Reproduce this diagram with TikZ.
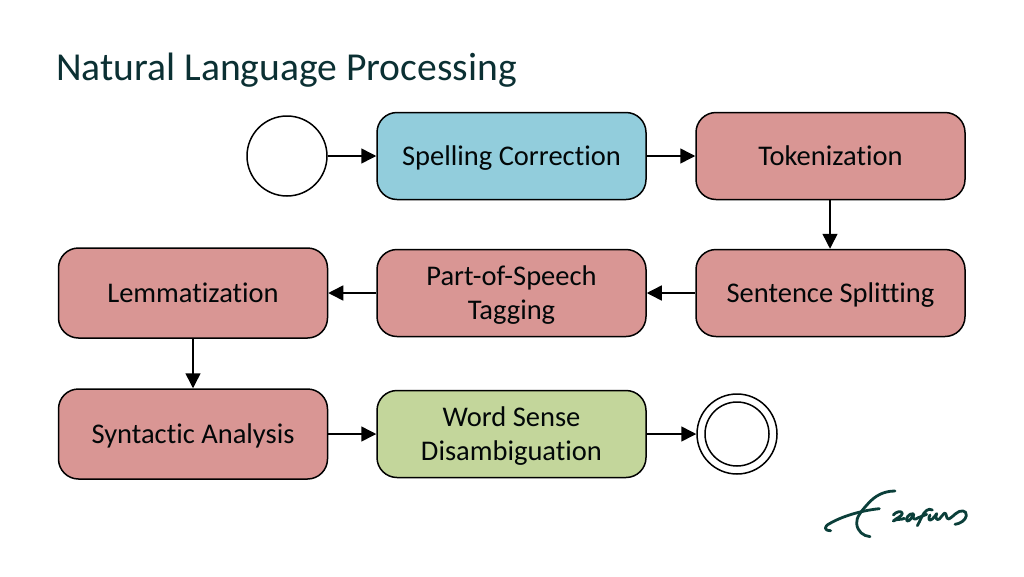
\documentclass[tikz,border=0pt]{standalone}
\usepackage{fontspec}
\setmainfont[RawFeature={-liga;-clig;-dlig;-calt}]{Carlito}
\usetikzlibrary{arrows.meta}
\definecolor{titlec}{HTML}{0B3033}
\definecolor{bluec}{HTML}{92CDDC}
\definecolor{redc}{HTML}{D99694}
\definecolor{greenc}{HTML}{C3D69B}
\definecolor{logoc}{HTML}{0B3F3A}
\tikzset{
  stepbox/.style={draw=black,line width=1.5pt,rounded corners=20pt,align=center,font=\fontsize{28.5}{34}\selectfont,text=black!85!titlec,inner sep=0pt,minimum width=269pt,minimum height=87pt},
  oneline/.style={text height=19pt,text depth=1pt},
  twoline/.style={text height=53pt,text depth=0pt},
  ringc/.style={draw=black,line width=1.5pt,circle,inner sep=0pt},
  conn/.style={draw=black,line width=1.5pt,-{Triangle[length=15pt,width=15pt]}},
  logostroke/.style={draw=logoc,line width=2.8pt,line cap=round,line join=round},
}
\begin{document}
\begin{tikzpicture}[x=1pt,y=-1pt]
\useasboundingbox (0,0) rectangle (1024,576);
\fill[white] (0,0) rectangle (1024,576);
\node[anchor=west,font=\fontsize{39.6}{46}\selectfont,text=titlec,inner sep=0pt] (title) at (56,70) {Natural Language Processing};
\node[ringc,minimum size=80pt] (start) at (287,156) {};
\node[stepbox,oneline,fill=bluec] (spell) at (511.5,156) {Spelling Correction};
\node[stepbox,oneline,fill=redc] (tok) at (830.5,156) {Tokenization};
\node[stepbox,oneline,fill=redc] (sent) at (830.5,293) {Sentence Splitting};
\node[stepbox,twoline,fill=redc] (pos) at (511.5,293) {Part-of-Speech\\Tagging};
\node[stepbox,oneline,fill=redc,minimum height=90pt] (lem) at (193,293) {Lemmatization};
\node[stepbox,oneline,fill=redc,minimum height=90pt] (syn) at (193,434) {Syntactic Analysis};
\node[stepbox,twoline,fill=greenc] (wsd) at (511.5,434) {Word Sense\\Disambiguation};
\node[ringc,minimum size=80pt] (end) at (737,434) {};
\node[ringc,minimum size=64pt] (endin) at (737,434) {};
\draw[conn] (start) -- (spell);
\draw[conn] (spell) -- (tok);
\draw[conn] ([xshift=-0.5pt]tok.south) -- ([xshift=-0.5pt]sent.north);
\draw[conn] (sent) -- (pos);
\draw[conn] (pos) -- (lem);
\draw[conn] (lem) -- (syn);
\draw[conn] (syn) -- (wsd);
\draw[conn] (wsd) -- (end);
\begin{scope}[shift={(800,470)},x=0.3333pt,y=-0.3333pt]
\draw[logostroke] (285,63) .. controls (250,63) and (225,78) .. (205,100) .. controls (185,122) and (168,142) .. (170,160) .. controls (172,185) and (190,198) .. (210,200);
\draw[logostroke] (92,182) .. controls (72,182) and (70,170) .. (90,160) .. controls (125,140) and (180,122) .. (238,116);
\end{scope}
\begin{scope}[shift={(885,495)},x=0.3333pt,y=-0.3333pt]
\draw[logostroke] (25,60) .. controls (32,50) and (50,46) .. (52,55) .. controls (52,64) and (32,70) .. (25,78) .. controls (35,70) and (48,76) .. (58,70);
\draw[logostroke] (85,56) .. controls (72,54) and (60,72) .. (66,78) .. controls (74,80) and (82,65) .. (86,58) .. controls (82,70) and (86,78) .. (100,68);
\draw[logostroke] (97,92) .. controls (105,80) and (112,55) .. (125,46) .. controls (130,42) and (136,42) .. (142,45);
\draw[logostroke] (100,68) -- (125,58);
\draw[logostroke] (135,60) .. controls (128,72) and (132,80) .. (142,72) .. controls (148,66) and (152,60) .. (155,56) .. controls (150,68) and (154,78) .. (163,72) .. controls (170,66) and (175,55) .. (180,54) .. controls (186,58) and (182,72) .. (192,72) .. controls (200,70) and (204,60) .. (212,56);
\draw[logostroke] (212,56) .. controls (225,44) and (246,44) .. (244,62) .. controls (242,76) and (225,86) .. (210,88);
\end{scope}
\end{tikzpicture}
\end{document}
